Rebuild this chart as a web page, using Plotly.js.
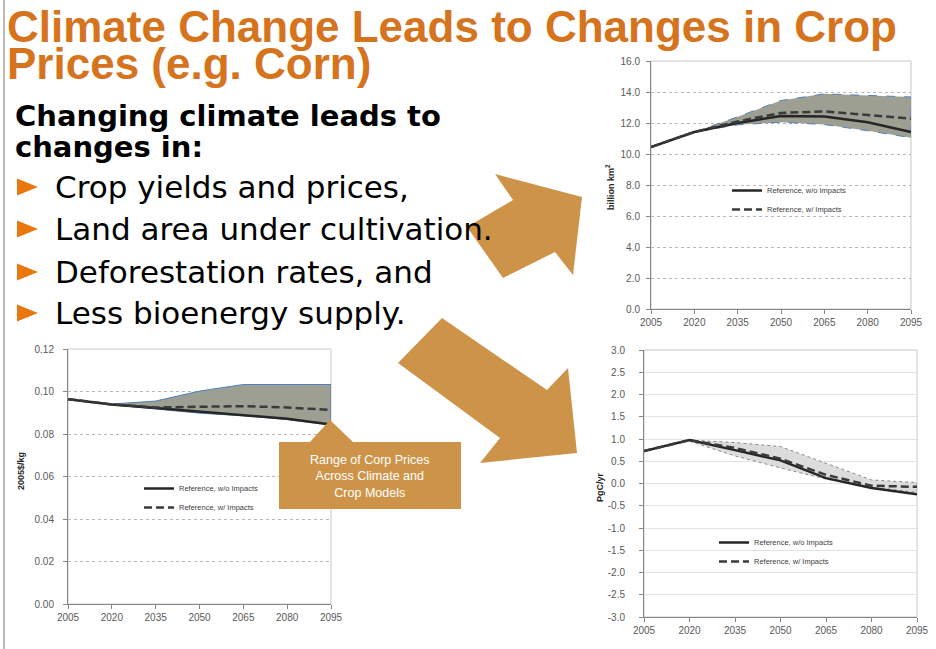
<!DOCTYPE html>
<html>
<head>
<meta charset="utf-8">
<script src="https://cdn.plot.ly/plotly-3.0.1.min.js"></script>
<style>html,body{margin:0;padding:0;background:#fff;}#chart{width:936px;height:649px;}</style>
</head>
<body>
<div id="chart"></div>
<script>
// ---- data ----
const years = [2005, 2020, 2035, 2050, 2065, 2080, 2095];
const bandYears = [2020, 2035, 2050, 2065, 2080, 2095];

const landNoImpacts   = [10.45, 11.42, 12.0, 12.45, 12.42, 12.05, 11.42];
const landWithImpacts = [10.45, 11.42, 12.1, 12.65, 12.75, 12.5, 12.28];
const landUpper = [11.42, 12.4, 13.45, 13.88, 13.78, 13.68];
const landLower = [11.42, 11.88, 12.05, 11.9, 11.5, 11.05];

const priceNoImpacts   = [0.0964, 0.0939, 0.0922, 0.0905, 0.0891, 0.0872, 0.0845];
const priceWithImpacts = [0.0964, 0.0939, 0.0925, 0.0928, 0.0931, 0.0925, 0.0913];
const priceUpper = [0.0941, 0.0955, 0.1002, 0.1033, 0.1033, 0.1033];
const priceLower = [0.0937, 0.0918, 0.0898, 0.0886, 0.0868, 0.0842];

const carbonNoImpacts   = [0.73, 0.975, 0.75, 0.52, 0.12, -0.1, -0.24];
const carbonWithImpacts = [0.73, 0.975, 0.8, 0.555, 0.195, -0.05, -0.075];
const carbonUpper = [0.975, 0.92, 0.83, 0.45, 0.08, 0.02];
const carbonLower = [0.95, 0.62, 0.35, 0.1, -0.08, -0.2];

const seriesNames = ['Reference, w/o Impacts', 'Reference, w/ Impacts'];
const yearTicks = [2005, 2020, 2035, 2050, 2065, 2080, 2095];
const carbonTickVals = [-3, -2.5, -2, -1.5, -1, -0.5, 0, 0.5, 1, 1.5, 2, 2.5, 3];
const carbonTickText = ['-3.0', '-2.5', '-2.0', '-1.5', '-1.0', '-0.5', '0.0', '0.5', '1.0', '1.5', '2.0', '2.5', '3.0'];

const titleLines = ['Climate Change Leads to Changes in Crop', 'Prices (e.g. Corn)'];
const subtitleLines = ['Changing climate leads to', 'changes in:'];
const bullets = ['Crop yields and prices,', 'Land area under cultivation.', 'Deforestation rates, and', 'Less bioenergy supply.'];
const calloutText = 'Range of Corp Prices<br>Across Climate and<br>Crop Models';

// ---- helpers ----
const W = 936, H = 649;
const px = x => x / W;
const py = y => 1 - y / H;
const FONT = 'Liberation Sans, Arial, sans-serif';
const TAN = '#cd9449';

function band(xs, up, lo) {
  return { x: xs.concat(xs.slice().reverse()), y: up.concat(lo.slice().reverse()) };
}

const traces = [];
function addChart(ax, noImp, withImp, up, lo, fill, edge, edgeDash, legendId) {
  const b = band(bandYears, up, lo);
  traces.push({ x: b.x, y: b.y, xaxis: 'x' + ax, yaxis: 'y' + ax, type: 'scatter', mode: 'lines',
    fill: 'toself', fillcolor: fill, line: { color: edge, width: 1, dash: edgeDash }, showlegend: false, hoverinfo: 'skip' });
  traces.push({ x: years, y: noImp, xaxis: 'x' + ax, yaxis: 'y' + ax, type: 'scatter', mode: 'lines',
    name: seriesNames[0], line: { color: '#262626', width: 2.5 }, legend: legendId });
  traces.push({ x: years, y: withImp, xaxis: 'x' + ax, yaxis: 'y' + ax, type: 'scatter', mode: 'lines',
    name: seriesNames[1], line: { color: '#3a3a3a', width: 2.5, dash: '8px,4px' }, legend: legendId });
}
addChart('', landNoImpacts, landWithImpacts, landUpper, landLower, '#9c9f92', '#4f81bd', 'dash', 'legend');
addChart('2', priceNoImpacts, priceWithImpacts, priceUpper, priceLower, '#9c9f92', '#4f81bd', 'solid', 'legend2');
addChart('3', carbonNoImpacts, carbonWithImpacts, carbonUpper, carbonLower, '#dcdcdc', '#8a8a8a', 'dot', 'legend3');

const tickFont = { family: FONT, size: 10, color: '#595959' };
function xAxis(domain, anchor) {
  return { domain: domain, anchor: anchor, range: [2005, 2095], tickvals: yearTicks, showgrid: false, zeroline: false,
    showline: true, linecolor: '#868686', linewidth: 1, ticks: 'outside', ticklen: 4, tickcolor: '#868686',
    tickfont: tickFont, fixedrange: true };
}
function yAxis(domain, anchor, extra) {
  return Object.assign({ domain: domain, anchor: anchor, showgrid: true, gridcolor: '#b8b8b8', griddash: 'dot', gridwidth: 1,
    zeroline: false, showline: true, linecolor: '#868686', linewidth: 1, ticks: 'outside', ticklen: 4, tickcolor: '#868686',
    tickfont: tickFont, fixedrange: true }, extra);
}

const legendBase = { xanchor: 'left', yanchor: 'top', bgcolor: 'rgba(0,0,0,0)', borderwidth: 0,
  font: { family: FONT, size: 7.5, color: '#404040' }, tracegroupgap: 0, itemwidth: 30 };

const shapes = [];
// slide left border
shapes.push({ type: 'line', xref: 'paper', yref: 'paper', x0: px(4), x1: px(4), y0: 0, y1: 1, line: { color: '#8c8c8c', width: 1.2 } });
// plot frames
[['x', 'y'], ['x2', 'y2'], ['x3', 'y3']].forEach(function (p) {
  shapes.push({ type: 'rect', xref: p[0] + ' domain', yref: p[1] + ' domain', x0: 0, x1: 1, y0: 0, y1: 1,
    line: { color: '#c8c8c8', width: 1 }, layer: 'below' });
});
function poly(pts) {
  return 'M' + pts.map(p => px(p[0]) + ',' + py(p[1])).join(' L') + ' Z';
}
// arrows
shapes.push({ type: 'path', xref: 'paper', yref: 'paper', path: poly([[467, 227], [513, 200], [495, 174], [582, 197], [573, 275], [555, 252], [503, 278]]),
  fillcolor: TAN, line: { width: 0 }, layer: 'above' });
shapes.push({ type: 'path', xref: 'paper', yref: 'paper', path: poly([[442, 318], [547, 390], [568, 368], [577, 453], [480, 463], [500, 438], [398, 363]]),
  fillcolor: TAN, line: { width: 0 }, layer: 'above' });
// callout
shapes.push({ type: 'path', xref: 'paper', yref: 'paper', path: poly([[279, 442], [310, 442], [330, 420], [353, 442], [461, 442], [461, 509], [279, 509]]),
  fillcolor: TAN, line: { width: 0 }, layer: 'above' });
// bullet triangles
const bulletY = [187, 229, 272, 313];
bulletY.forEach(function (c) {
  shapes.push({ type: 'path', xref: 'paper', yref: 'paper', path: poly([[17, c - 8.5], [38, c], [17, c + 8.5]]),
    fillcolor: '#e8770e', line: { width: 0 } });
});

const annotations = [];
function txt(t, x, y, font, extra) {
  annotations.push(Object.assign({ text: t, xref: 'paper', yref: 'paper', x: px(x), y: py(y), xanchor: 'left', yanchor: 'middle',
    showarrow: false, font: font, borderpad: 0 }, extra || {}));
}
const titleFont = { family: FONT, size: 44, color: '#d6731d' };
txt('<b>' + titleLines[0] + '</b>', 6, 27, titleFont);
txt('<b>' + titleLines[1] + '</b>', 6, 64, titleFont);
const subFont = { family: 'DejaVu Sans', size: 29, color: '#000' };
txt('<b>' + subtitleLines[0] + '</b>', 14, 116, subFont);
txt('<b>' + subtitleLines[1] + '</b>', 14, 147, subFont);
const bulletFont = { family: 'DejaVu Sans', size: 31, color: '#000' };
bullets.forEach(function (b, i) { txt(b, 54, bulletY[i], bulletFont); });
txt(calloutText, 370, 476, { family: FONT, size: 12.5, color: '#ffffff' }, { xanchor: 'center', align: 'center' });
const axTitleFont = { family: FONT, size: 9, color: '#262626' };
txt('<b>billion km<sup>2</sup></b>', 610, 187, axTitleFont, { xanchor: 'center', textangle: -90 });
txt('<b>2005$/kg</b>', 21, 471, axTitleFont, { xanchor: 'center', textangle: -90 });
txt('<b>PgC/yr</b>', 600, 487, axTitleFont, { xanchor: 'center', textangle: -90 });

const layout = {
  width: W, height: H, margin: { l: 0, r: 0, t: 0, b: 0 }, paper_bgcolor: '#fff', plot_bgcolor: 'rgba(0,0,0,0)',
  showlegend: true,
  xaxis: xAxis([px(651), px(911)], 'y'),
  yaxis: yAxis([py(309), py(61)], 'x', { range: [0, 16], dtick: 2, tickformat: '.1f', ticklabelstandoff: 4 }),
  xaxis2: xAxis([px(68), px(331)], 'y2'),
  yaxis2: yAxis([py(604), py(349)], 'x2', { range: [0, 0.12], dtick: 0.02, tickformat: '.2f', ticklabelstandoff: 7 }),
  xaxis3: xAxis([px(644), px(917)], 'y3'),
  yaxis3: yAxis([py(617), py(350)], 'x3', { range: [-3, 3], tickvals: carbonTickVals, ticktext: carbonTickText,
    griddash: 'solid', gridcolor: '#e2e2e2', ticklabelstandoff: 12 }),
  legend: Object.assign({}, legendBase, { x: px(727), y: py(176) }),
  legend2: Object.assign({}, legendBase, { x: px(139), y: py(474) }),
  legend3: Object.assign({}, legendBase, { x: px(714), y: py(528) }),
  shapes: shapes,
  annotations: annotations
};

Plotly.newPlot('chart', traces, layout, { staticPlot: true, displayModeBar: false });
</script>
</body>
</html>
